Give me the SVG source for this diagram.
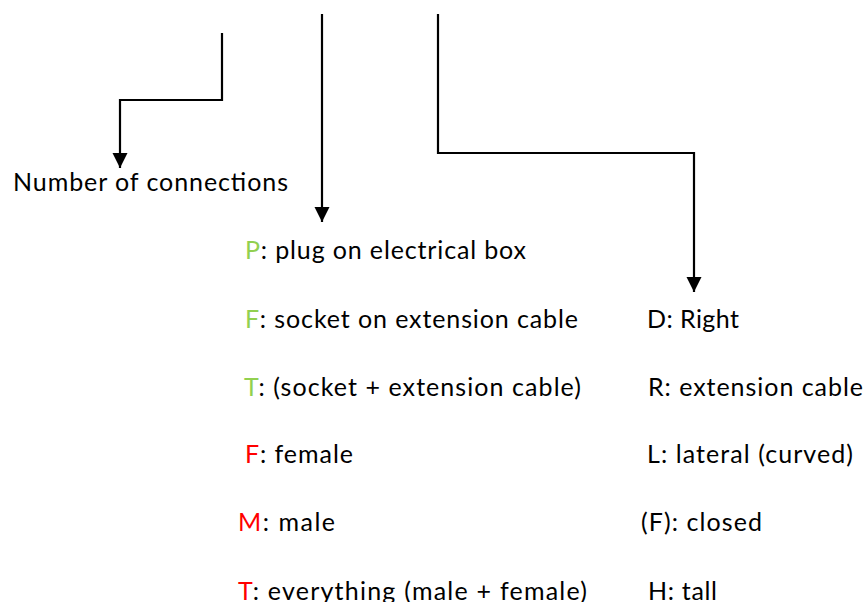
<svg xmlns="http://www.w3.org/2000/svg" width="867" height="602" viewBox="0 0 867 602">
<style>
.t{font-family:Lato,"Liberation Sans",sans-serif;font-size:25px;fill:#000}
.g{fill:#92D050}
.r{fill:#FF0000}
.c{fill:none;stroke:#000;stroke-width:2.2;marker-end:url(#ah)}
</style>
<defs>
<marker id="ah" markerUnits="userSpaceOnUse" markerWidth="16" markerHeight="16" refX="15" refY="7.5" orient="auto" viewBox="0 0 16 16">
<path d="M0,0 L15,7.5 L0,15 z" fill="#000"/>
</marker>
</defs>
<rect width="867" height="602" fill="#fff"/>
<g id="connectors">
<path class="c" d="M222,33 V100 H120 V168"/>
<path class="c" d="M322,14 V222"/>
<path class="c" d="M438,14 V153 H694 V292"/>
</g>
<g id="n-count"><text class="t" x="13" y="191" textLength="275" lengthAdjust="spacing">Number of connections</text></g>
<g id="n-p"><text class="t" x="245" y="259" textLength="281" lengthAdjust="spacing"><tspan class="g">P</tspan>: plug on electrical box</text></g>
<g id="n-f1"><text class="t" x="245" y="328" textLength="333" lengthAdjust="spacing"><tspan class="g">F</tspan>: socket on extension cable</text></g>
<g id="n-t1"><text class="t" x="244" y="396" textLength="337" lengthAdjust="spacing"><tspan class="g">T</tspan>: (socket + extension cable)</text></g>
<g id="n-f2"><text class="t" x="245" y="463" textLength="108" lengthAdjust="spacing"><tspan class="r">F</tspan>: female</text></g>
<g id="n-m"><text class="t" x="238" y="531" textLength="97" lengthAdjust="spacing"><tspan class="r">M</tspan>: male</text></g>
<g id="n-t2"><text class="t" x="238" y="600" textLength="349" lengthAdjust="spacing"><tspan class="r">T</tspan>: everything (male + female)</text></g>
<g id="n-d"><text class="t" x="647" y="328" textLength="92" lengthAdjust="spacing">D: Right</text></g>
<g id="n-r"><text class="t" x="648" y="396" textLength="215" lengthAdjust="spacing">R: extension cable</text></g>
<g id="n-l"><text class="t" x="647" y="463" textLength="206" lengthAdjust="spacing">L: lateral (curved)</text></g>
<g id="n-fc"><text class="t" x="641" y="531" textLength="121" lengthAdjust="spacing">(F): closed</text></g>
<g id="n-h"><text class="t" x="648" y="600" textLength="69" lengthAdjust="spacing">H: tall</text></g>
</svg>
